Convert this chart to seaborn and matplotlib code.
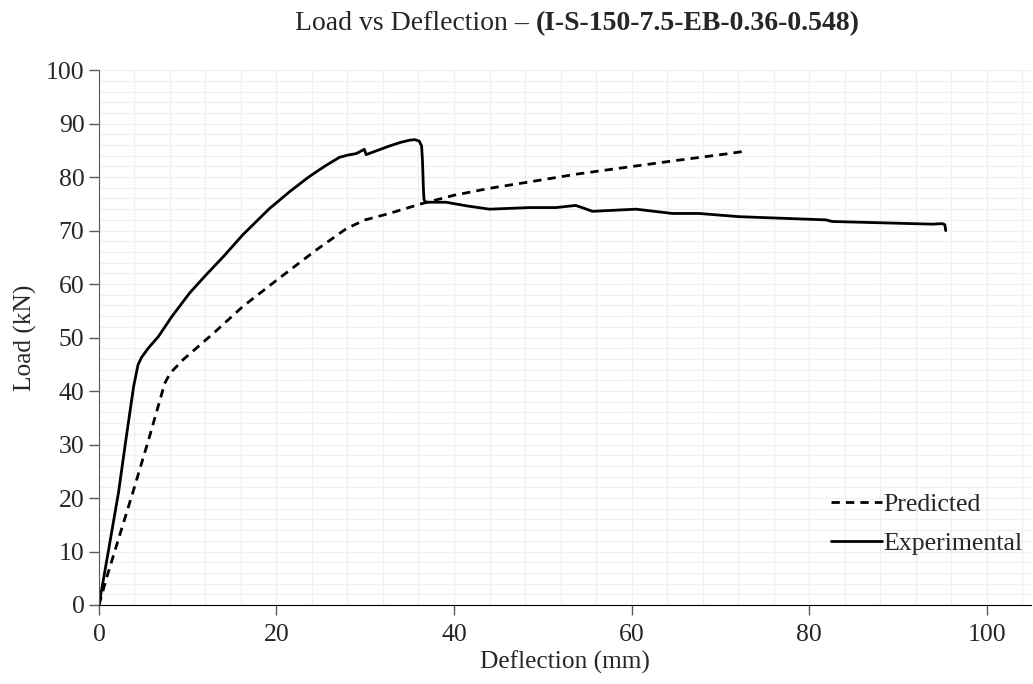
import numpy as np
import pandas as pd
import matplotlib
matplotlib.use("Agg")
import matplotlib.pyplot as plt
from matplotlib.ticker import MultipleLocator
import seaborn as sns

# experimental curve
exp_defl = [0, 1.0, 2.2, 3.0, 3.9, 4.4, 4.8, 5.55, 6.7, 8.2, 10.2, 12.0, 14.0, 16.2, 19.2,
            21.5, 23.7, 25.5, 27.1, 28.0, 29.0, 29.9, 30.1, 32.7, 34.0, 35.0, 35.6, 36.1,
            36.35, 36.45, 36.55, 36.62, 36.8, 37.2, 39.1, 41.5, 44.0, 48.5, 51.5, 53.7,
            54.6, 55.6, 60.5, 64.6, 67.6, 72.1, 81.9, 82.6, 93.9, 95.0, 95.3, 95.4]
exp_load = [0, 9.5, 21.0, 30.5, 40.8, 44.9, 46.3, 48.0, 50.2, 53.9, 58.3, 61.6, 65.1, 69.2, 74.1,
            77.3, 80.1, 82.1, 83.7, 84.1, 84.4, 85.2, 84.2, 85.8, 86.5, 86.9, 87.0, 86.7,
            85.8, 83.0, 78.0, 75.8, 75.3, 75.3, 75.3, 74.6, 74.0, 74.3, 74.3, 74.7,
            74.2, 73.6, 74.0, 73.2, 73.2, 72.6, 72.0, 71.7, 71.2, 71.3, 71.1, 70.0]

# predicted curve
pred_defl = [0, 0.9, 3.9, 5.7, 7.4, 8.0, 9.5, 12.9, 16.2, 20.0, 24.5, 27.9, 30.0, 32.7,
             36.5, 40.0, 44.0, 48.5, 54.0, 59.7, 65.0, 71.0, 73.0]
pred_load = [0, 5.3, 21.5, 31.5, 41.4, 43.3, 45.9, 50.8, 55.8, 60.7, 66.4, 70.4, 72.0, 73.2,
             75.1, 76.6, 77.9, 79.1, 80.6, 81.9, 83.1, 84.4, 84.9]

sns.set_style("white")
plt.rcParams["font.family"] = ["Liberation Serif", "DejaVu Serif"]

fig = plt.figure(figsize=(10.33, 6.84), dpi=100)
ax = fig.add_axes([0.0958, 0.1155, 0.9022, 0.782])

pred = pd.DataFrame({"d": pred_defl, "p": pred_load})
expe = pd.DataFrame({"d": exp_defl, "p": exp_load})

sns.lineplot(data=pred, x="d", y="p", sort=False, estimator=None, color="black",
             lw=2, ax=ax, label="Predicted", linestyle=(0, (3, 2.2)))
sns.lineplot(data=expe, x="d", y="p", sort=False, estimator=None, color="black",
             lw=2, ax=ax, label="Experimental")
for ln in ax.lines:
    ln.set_solid_joinstyle("round")
    ln.set_dash_joinstyle("round")

ax.set_xlim(0, 105)
ax.set_ylim(0, 100)
ax.xaxis.set_major_locator(MultipleLocator(20))
ax.xaxis.set_minor_locator(MultipleLocator(4))
ax.yaxis.set_major_locator(MultipleLocator(10))
ax.yaxis.set_minor_locator(MultipleLocator(2))
ax.grid(which="both", color="#f0f0f0", lw=1)
ax.set_axisbelow(True)

for s in ["top", "right"]:
    ax.spines[s].set_visible(False)
ax.spines["left"].set_color("#595959")
ax.spines["bottom"].set_color("black")
ax.tick_params(which="major", length=7, width=1, color="#595959",
               labelsize=18.5, direction="out", left=True, bottom=True)
ax.tick_params(axis="x", pad=7)
ax.tick_params(which="minor", length=0)

ax.set_xlabel("Deflection (mm)", fontsize=18.3, labelpad=3)
ax.set_ylabel("Load (kN)", fontsize=18.3, labelpad=6)

leg = ax.legend(loc="lower right", frameon=False, fontsize=18.6, handlelength=2.0,
                handletextpad=0.05, borderaxespad=0.2, labelspacing=0.62,
                bbox_to_anchor=(1.008, 0.065))

fig.text(0.519, 0.966, "Load vs Deflection – ", ha="right", va="center", fontsize=20)
fig.text(0.519, 0.966, "(I-S-150-7.5-EB-0.36-0.548)", ha="left", va="center",
         fontsize=20, fontweight="bold")

fig.savefig("out.png", dpi=100)
